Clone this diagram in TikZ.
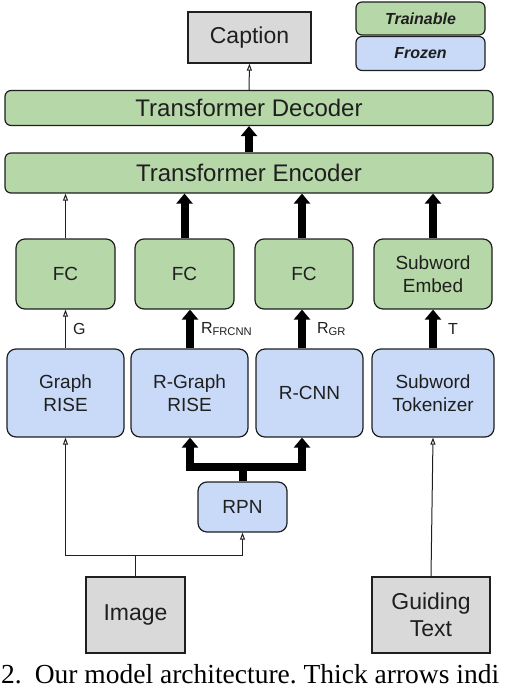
\documentclass[tikz,border=0pt]{standalone}
\usepackage{fontspec}
\setmainfont{Liberation Sans}
\newfontfamily\capfont{Liberation Serif}
\usepackage{xcolor}
\usepackage{tikz}
\usetikzlibrary{arrows.meta, positioning}
\definecolor{trainable}{HTML}{B6D7A8}
\definecolor{frozen}{HTML}{C9DAF8}
\definecolor{iobox}{HTML}{D9D9D9}
\definecolor{edge}{HTML}{1F1F1F}

\begin{document}
\frenchspacing
\begin{tikzpicture}[x=1pt, y=-1pt,
  box/.style={draw=edge, line width=1.2pt, rounded corners=9pt, inner sep=0pt, align=center, text=edge, font=\fontsize{19}{23}\selectfont},
  wide/.style={box, rounded corners=6pt, minimum width=488pt, font=\fontsize{24}{26}\selectfont},
  iobox/.style={draw=edge, line width=1.2pt, fill=iobox, inner sep=0pt, align=center, text=edge, font=\fontsize{23}{27}\selectfont},
  legend/.style={box, rounded corners=6pt, minimum width=129pt, font=\fontsize{16}{18}\selectfont\bfseries\itshape},
  thin/.style={-{Triangle[open, length=7pt, width=5pt]}, line width=1pt, draw=edge},
  thick/.style={-{Triangle[length=10pt, width=16pt]}, line width=8pt, draw=black},
  lbl/.style={inner sep=0pt, text=edge, font=\fontsize{16}{18}\selectfont}
]
\useasboundingbox (0,0) rectangle (512,690);

% OUTPUT AND LEGEND
\node[iobox, minimum width=123pt, minimum height=51pt] (cap) at (249.5,37.5) {Caption};
\node[legend, fill=trainable, minimum height=33pt] (train) at (420.5,18.5) {Trainable};
\node[legend, fill=frozen, minimum height=34pt] (froz) at (420.5,53.5) {Frozen};

% TRANSFORMER
\node[wide, fill=trainable, minimum height=35pt] (dec) at (249,108) {Transformer Decoder};
\node[wide, fill=trainable, minimum height=40pt] (enc) at (249,173) {Transformer Encoder};

\draw[thin] (dec.north) -- (cap.south);
\draw[thick] (enc.north) -- (dec.south);

% FC ROW
\node[box, fill=trainable, minimum width=99pt, minimum height=70pt] (fcg) at (65.5,274) {FC};
\node[box, fill=trainable, minimum width=99pt, minimum height=70pt] (fcr) at (184.5,274) {FC};
\node[box, fill=trainable, minimum width=98pt, minimum height=70pt] (fcc) at (304,274) {FC};
\node[box, fill=trainable, minimum width=118pt, minimum height=70pt] (emb) at (433,274) {Subword\\Embed};

% FEATURE ROW
\node[box, fill=frozen, minimum width=117pt, minimum height=88pt] (graph) at (65.5,393) {Graph\\RISE};
\node[box, fill=frozen, minimum width=117pt, minimum height=88pt] (rgraph) at (189.5,393) {R-Graph\\RISE};
\node[box, fill=frozen, minimum width=107pt, minimum height=88pt] (rcnn) at (309.5,393) {R-CNN};
\node[box, fill=frozen, minimum width=122pt, minimum height=88pt] (tok) at (433,393) {Subword\\Tokenizer};

\node[box, fill=frozen, minimum width=89pt, minimum height=50pt] (rpn) at (242.5,507) {RPN};

% INPUTS
\node[iobox, minimum width=99pt, minimum height=76pt] (img) at (135.5,615) {Image};
\node[iobox, minimum width=118pt, minimum height=76pt] (guide) at (431,615) {Guiding\\Text};

\coordinate (brl) at (190,467);
\coordinate (brr) at (302,467);
\coordinate (split) at (135.5,555);

% features into the FC row
\draw[thin] (graph.north) -- node[lbl, right=7pt]{G} (graph.north |- fcg.south);
\draw[thick] (rgraph.north -| brl) -- node[lbl, right=7pt]{R\textsubscript{FRCNN}} (fcr.south -| brl);
\draw[thick] (rcnn.north -| brr) -- node[lbl, right=11pt]{R\textsubscript{GR}} (fcc.south -| brr);
\draw[thick] (tok.north) -- node[lbl, right=11pt]{T} (emb.south);

% FC row into the encoder
\draw[thin] (fcg.north) -- (enc.south -| fcg.north);
\draw[thick] (fcr.north) -- (enc.south -| fcr.north);
\draw[thick] (fcc.north -| brr) -- (enc.south -| brr);
\draw[thick] (emb.north) -- (enc.south -| emb.north);

% RPN branches
\draw[line width=8pt] (rpn.north) -- (rpn.north |- brl);
\draw[thick, {Triangle[length=10pt, width=16pt]}-{Triangle[length=10pt, width=16pt]}, line join=miter]
  (rgraph.south -| brl) -- (brl) -- (brr) -- (rcnn.south -| brr);

% inputs
\draw[thin] (img.north) -- (split) -| (graph.south);
\draw[thin] (img.north) -- (split) -| (rpn.south);
\draw[thin] (guide.north) -- (tok.south);

% figure caption below
\node[anchor=base west, inner sep=0pt, font=\capfont\fontsize{27.5}{30}\selectfont] (figcap) at (1,683)
  {2.\hspace{13pt}Our model architecture. Thick arrows indi};

\end{tikzpicture}
\end{document}
